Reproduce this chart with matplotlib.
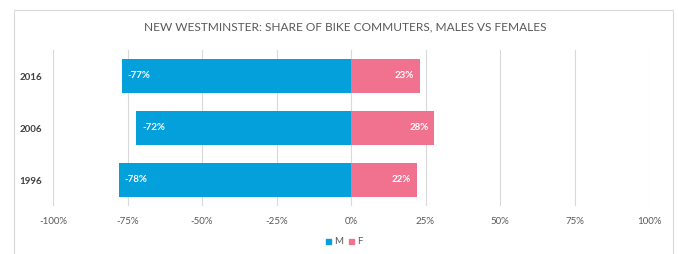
import matplotlib.pyplot as plt
from matplotlib.patches import Rectangle
from matplotlib.ticker import FuncFormatter

# Data
years = ['1996', '2006', '2016']
males = [-78, -72, -77]
females = [22, 28, 23]

blue = '#04A0DC'
pink = '#F0728F'

plt.rcParams['font.family'] = ['Lato', 'DejaVu Sans']

fig = plt.figure(figsize=(6.78, 2.54), dpi=100)
fig.patch.set_facecolor('white')

# chart frame
fig.patches.append(Rectangle((14 / 678, -0.05), (673 - 14) / 678, 1.05 - 10 / 254,
                             transform=fig.transFigure, fill=False,
                             edgecolor='#D9D9D9', linewidth=0.8))

ax = fig.add_axes([53 / 678, 1 - 206 / 254, (649 - 53) / 678, (206 - 50) / 254])

ypos = range(len(years))
ax.barh(ypos, males, height=0.66, color=blue, zorder=3)
ax.barh(ypos, females, height=0.66, color=pink, zorder=3)

for y, m, f in zip(ypos, males, females):
    ax.text(m + 2, y, f'{m}%', ha='left', va='center', color='white',
            fontsize=7, fontweight='bold', zorder=4)
    ax.text(f - 2, y, f'{f}%', ha='right', va='center', color='white',
            fontsize=7, fontweight='bold', zorder=4)

ax.set_xlim(-100, 100)
ax.set_ylim(-0.5, 2.5)
ax.set_xticks(range(-100, 101, 25))
ax.xaxis.set_major_formatter(FuncFormatter(lambda v, p: f'{int(v)}%'))
ax.set_yticks(list(ypos))
ax.set_yticklabels(years, fontweight='bold', color='#404040', fontsize=7)
ax.tick_params(axis='x', colors='#595959', labelsize=7, length=0, pad=8)
ax.tick_params(axis='y', length=0, pad=8)
ax.grid(axis='x', color='#D9D9D9', linewidth=0.8, zorder=0)
for s in ax.spines.values():
    s.set_visible(False)

fig.text(345 / 678, 1 - 27 / 254, 'NEW WESTMINSTER: SHARE OF BIKE COMMUTERS, MALES VS FEMALES',
         ha='center', va='center', fontsize=8.6, color='#595959')

# legend
fig.patches.append(Rectangle((326 / 678, 1 - 244 / 254), 5 / 678, 5 / 254,
                             transform=fig.transFigure, color=blue))
fig.text(334 / 678, 1 - 241.5 / 254, 'M', ha='left', va='center', fontsize=7, color='#595959')
fig.patches.append(Rectangle((349 / 678, 1 - 244 / 254), 5 / 678, 5 / 254,
                             transform=fig.transFigure, color=pink))
fig.text(357 / 678, 1 - 241.5 / 254, 'F', ha='left', va='center', fontsize=7, color='#595959')

fig.savefig('out.png', dpi=100)
